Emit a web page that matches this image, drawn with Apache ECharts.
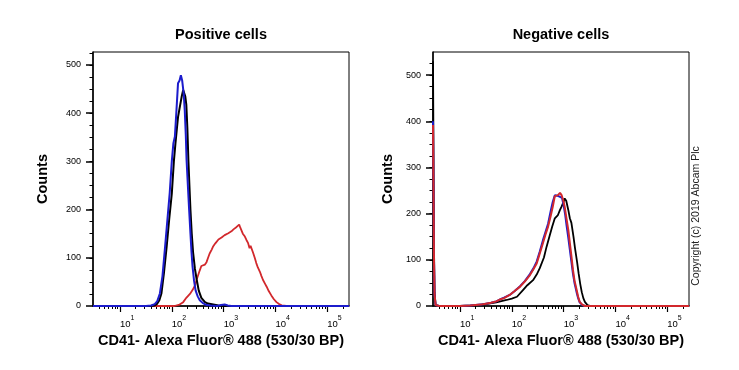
<!DOCTYPE html>
<html><head><meta charset="utf-8">
<script src="https://cdn.jsdelivr.net/npm/echarts@6/dist/echarts.min.js"></script>
<style>html,body{margin:0;padding:0;background:#fff}#c{width:739px;height:370px}</style>
</head><body><div id="c"></div>
<script>
// x values are decades (log10 of fluorescence intensity)
const posBlue = [[0.48,0],[1.50,0],[1.60,1],[1.67,4],[1.72,10],[1.77,26],[1.82,62],[1.87,122],[1.92,185],[1.96,235],[2.00,300],[2.03,337],[2.06,352],[2.09,406],[2.12,462],[2.15,468],[2.175,479],[2.20,468],[2.23,440],[2.25,406],[2.27,355],[2.285,303],[2.31,250],[2.335,199],[2.36,150],[2.38,112],[2.40,82],[2.43,52],[2.46,32],[2.50,20],[2.54,12],[2.60,6],[2.67,2],[2.75,1],[2.88,0],[2.95,2],[3.02,3],[3.08,1],[3.15,0],[5.42,0]];
const posBlack = [[0.48,0],[1.60,0],[1.67,1],[1.72,5],[1.76,12],[1.80,26],[1.85,70],[1.90,122],[1.95,180],[2.00,233],[2.04,300],[2.07,337],[2.10,370],[2.12,392],[2.15,410],[2.19,434],[2.22,448],[2.24,445],[2.26,435],[2.28,418],[2.30,370],[2.32,303],[2.34,250],[2.36,199],[2.385,150],[2.41,112],[2.445,78],[2.48,55],[2.52,32],[2.57,17],[2.64,8],[2.70,5],[2.80,3],[2.90,1],[3.00,0],[5.42,0]];
const posRed = [[0.48,0],[2.05,0],[2.15,3],[2.22,8],[2.28,17],[2.35,25],[2.40,33],[2.445,42],[2.49,58],[2.54,74],[2.57,83],[2.60,85],[2.64,86],[2.67,91],[2.70,100],[2.73,109],[2.77,117],[2.80,124],[2.84,130],[2.87,133],[2.90,138],[2.93,140],[2.96,142],[2.99,146],[3.02,147],[3.05,147],[3.09,151],[3.12,154],[3.15,155],[3.19,159],[3.22,161],[3.25,164],[3.28,167],[3.30,169],[3.32,163],[3.34,158],[3.37,150],[3.41,144],[3.44,137],[3.47,131],[3.50,120],[3.52,125],[3.54,121],[3.57,110],[3.60,100],[3.63,89],[3.66,80],[3.70,71],[3.73,62],[3.76,54],[3.80,46],[3.83,40],[3.87,31],[3.92,22],[3.97,14],[4.02,8],[4.07,4],[4.12,1.5],[4.21,0],[5.42,0]];

const negBlack = [[0.48,530],[0.49,330],[0.50,120],[0.51,30],[0.53,2],[0.60,0],[1.00,0],[1.30,1.5],[1.50,4],[1.70,8],[1.90,13],[2.00,16],[2.10,20],[2.22,35],[2.30,45],[2.41,56],[2.48,68],[2.54,82],[2.57,86],[2.62,105],[2.67,128],[2.73,152],[2.78,172],[2.83,190],[2.89,197],[2.93,208],[2.96,215],[3.00,226],[3.02,233],[3.05,228],[3.09,208],[3.12,190],[3.15,180],[3.19,150],[3.22,125],[3.26,95],[3.29,70],[3.32,48],[3.35,30],[3.38,17],[3.41,9],[3.46,2],[3.52,0],[5.42,0]];
const negBlue = [[0.48,400],[0.49,260],[0.50,95],[0.51,25],[0.53,2],[0.60,0],[1.00,0],[1.10,0.5],[1.20,1],[1.30,2],[1.40,3],[1.50,5],[1.60,7],[1.70,10],[1.77,14],[1.85,18],[1.96,24],[2.05,32],[2.16,43],[2.25,54],[2.35,69],[2.42,82],[2.48,96],[2.54,118],[2.60,142],[2.65,160],[2.70,178],[2.75,205],[2.79,225],[2.83,240],[2.86,243],[2.90,238],[2.93,242],[2.97,234],[3.00,218],[3.03,198],[3.06,172],[3.09,148],[3.12,122],[3.15,96],[3.18,70],[3.21,50],[3.25,30],[3.28,17],[3.31,8],[3.36,2],[3.41,0],[5.42,0]];
const negRed = [[0.48,392],[0.49,250],[0.50,90],[0.51,25],[0.53,2],[0.60,0],[1.00,0],[1.10,0.5],[1.20,1],[1.30,2],[1.40,3],[1.50,5],[1.60,7],[1.70,10],[1.77,14],[1.85,17],[1.96,24],[2.05,32],[2.16,42],[2.25,53],[2.35,67],[2.42,80],[2.48,92],[2.54,114],[2.60,136],[2.65,155],[2.70,172],[2.75,195],[2.79,215],[2.83,238],[2.86,242],[2.89,240],[2.93,245],[2.96,240],[2.99,230],[3.02,215],[3.05,193],[3.09,165],[3.12,136],[3.15,108],[3.18,78],[3.21,55],[3.25,35],[3.28,20],[3.31,9],[3.36,3],[3.41,0],[5.42,0]];

const titles = ['Positive cells', 'Negative cells'];
const xName = 'CD41- Alexa Fluor® 488 (530/30 BP)';
const yName = 'Counts';
const xMajor = [1, 2, 3, 4, 5];
const xMinorMult = [2, 3, 4, 5, 6, 7, 8, 9];
const yMajor = [0, 100, 200, 300, 400, 500];
const yMinorStep = 25;
const xRange = [0.48, 5.4185];
const yMaxes = [527, 550];

const FONT = 'Liberation Sans, Arial, sans-serif';
const xMinor = [];
for (let n = 0; n <= 5; n++) for (const k of xMinorMult) {
  const v = n + Math.log10(k);
  if (v > xRange[0] && v < xRange[1]) xMinor.push(v);
}
function yMinorList(max) { const a = []; for (let v = yMinorStep; v < max; v += yMinorStep) a.push(v); return a; }

const grids = [
  {left: 93, top: 52, width: 256, height: 254, show: true, borderColor: '#000', borderWidth: 1},
  {left: 433, top: 52, width: 256, height: 254, show: true, borderColor: '#000', borderWidth: 1}
];
const nameGaps = [43, 38];
const xAxes = [], yAxes = [];
for (let g = 0; g < 2; g++) {
  xAxes.push({
    type: 'value', gridIndex: g, position: 'bottom', min: xRange[0], max: xRange[1],
    name: xName, nameLocation: 'middle', nameGap: 26,
    nameTextStyle: {fontFamily: FONT, fontWeight: 'bold', fontSize: 14.5, color: '#000'},
    axisLine: {show: true, onZero: false, lineStyle: {color: '#000', width: 1.5}},
    axisTick: {show: true, customValues: xMajor, length: 6, lineStyle: {color: '#000', width: 1.2}},
    axisLabel: {show: true, customValues: xMajor, margin: 9, align: 'left',
      formatter: v => '{b|10}{s|' + Math.round(v) + '}',
      rich: {b: {fontFamily: FONT, fontSize: 9.5, color: '#000', lineHeight: 14, verticalAlign: 'bottom'},
             s: {fontFamily: FONT, fontSize: 7, color: '#000', lineHeight: 8, verticalAlign: 'top'}}},
    splitLine: {show: false}
  });
  xAxes.push({
    type: 'value', gridIndex: g, position: 'bottom', offset: 0, min: xRange[0], max: xRange[1],
    axisLine: {show: false, onZero: false},
    axisTick: {show: true, customValues: xMinor, length: 3, lineStyle: {color: '#000', width: 1}},
    axisLabel: {show: false}, splitLine: {show: false}
  });
  yAxes.push({
    type: 'value', gridIndex: g, position: 'left', min: 0, max: yMaxes[g],
    name: yName, nameLocation: 'middle', nameGap: nameGaps[g],
    nameTextStyle: {fontFamily: FONT, fontWeight: 'bold', fontSize: 14.5, color: '#000'},
    axisLine: {show: true, onZero: false, lineStyle: {color: '#000', width: 1.5}},
    axisTick: {show: true, customValues: yMajor, length: 7, lineStyle: {color: '#000', width: 1.5}},
    axisLabel: {show: true, customValues: yMajor, margin: 12, fontFamily: FONT, fontSize: 9, color: '#000'},
    splitLine: {show: false}
  });
  yAxes.push({
    type: 'value', gridIndex: g, position: 'left', offset: 0, min: 0, max: yMaxes[g],
    axisLine: {show: false, onZero: false},
    axisTick: {show: true, customValues: yMinorList(yMaxes[g]), length: 3.5, lineStyle: {color: '#000', width: 1}},
    axisLabel: {show: false}, splitLine: {show: false}
  });
}
function line(data, color, xi, yi, w) {
  return {type: 'line', data: data, xAxisIndex: xi, yAxisIndex: yi, showSymbol: false, symbol: 'none',
    lineStyle: {color: color, width: w}, itemStyle: {color: color}, animation: false, silent: true};
}
const BLUE = '#1c1ccc', BLACK = '#000000', RED = '#d2282c';
const chart = echarts.init(document.getElementById('c'), null, {renderer: 'canvas'});
chart.setOption({
  animation: false,
  backgroundColor: '#fff',
  title: [
    {text: titles[0], left: 221, top: 27, textAlign: 'center', padding: 0, textStyle: {fontFamily: FONT, fontWeight: 'bold', fontSize: 14.5, color: '#000'}},
    {text: titles[1], left: 561, top: 27, textAlign: 'center', padding: 0, textStyle: {fontFamily: FONT, fontWeight: 'bold', fontSize: 14.5, color: '#000'}}
  ],
  grid: grids,
  xAxis: xAxes,
  yAxis: yAxes,
  series: [
    line(posRed, RED, 0, 0, 1.8),
    line(posBlack, BLACK, 0, 0, 2),
    line(posBlue, BLUE, 0, 0, 2),
    line(negBlack, BLACK, 2, 2, 1.8),
    line(negBlue, BLUE, 2, 2, 2),
    line(negRed, RED, 2, 2, 2)
  ],
  graphic: [{
    type: 'text', x: 696, y: 216, rotation: Math.PI / 2,
    style: {text: 'Copyright (c) 2019 Abcam Plc', font: '10.5px ' + FONT, fill: '#222', textAlign: 'center', textVerticalAlign: 'middle'}
  }]
});
</script></body></html>
